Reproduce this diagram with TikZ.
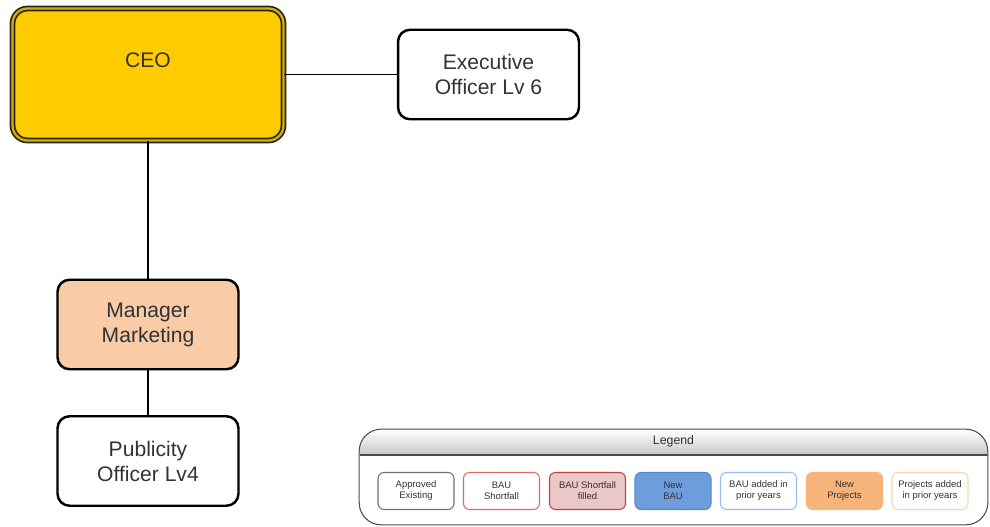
\documentclass[tikz,border=0pt]{standalone}
\usepackage{fontspec}
\setmainfont{Liberation Sans}
\definecolor{inkgray}{HTML}{333333}
\definecolor{ceogold}{HTML}{FFCC00}
\definecolor{ceorim}{HTML}{D9AD00}
\definecolor{peach}{HTML}{F9CBA7}
\definecolor{apprline}{HTML}{707070}
\definecolor{shortline}{HTML}{E06A6A}
\definecolor{filledfill}{HTML}{EAC8C8}
\definecolor{filledline}{HTML}{C84040}
\definecolor{newbaufill}{HTML}{6D9EDB}
\definecolor{newbauline}{HTML}{5588D0}
\definecolor{priorblue}{HTML}{9ABBEB}
\definecolor{newprojfill}{HTML}{F6B47B}
\definecolor{priorpeach}{HTML}{FAD3B5}
\begin{document}
\begin{tikzpicture}[x=0.02cm,y=-0.02cm,
  orgbox/.style={draw=black, line width=1.4pt, rounded corners=0.24cm,
    minimum width=3.62cm, minimum height=1.79cm, align=center,
    font=\fontsize{12}{14.2}\selectfont, text=inkgray},
  link/.style={draw=black, line width=0.8pt},
  keybox/.style={draw, line width=0.6pt, rounded corners=0.12cm,
    minimum width=1.52cm, minimum height=0.74cm, inner sep=0pt, align=center,
    font=\fontsize{5.4}{6.3}\selectfont, text=inkgray}]
\useasboundingbox (0,0) rectangle (990,527);

% organisation chart
\node[draw=black!85, line width=1pt, double=ceorim, double distance=1.3pt,
      fill=ceogold, rounded corners=0.3cm, minimum width=5.42cm, minimum height=2.64cm,
      label={[yshift=0.29cm, font=\fontsize{12}{14.2}\selectfont, text=inkgray]center:CEO}]
      (ceo) at (148,74.5) {};
\node[orgbox] (exec) at (488.5,74.5) {Executive\\Officer Lv 6};
\node[orgbox, fill=peach] (mgr) at (148,324.5) {Manager\\Marketing};
\node[orgbox] (pub) at (148,461) {Publicity\\Officer Lv4};

\draw[link] (ceo.east) -- (exec.west);
\draw[link] (ceo.south) -- (mgr.north);
\draw[link] (mgr.south) -- (pub.north);

% legend panel
\node[minimum width=12.56cm, minimum height=1.9cm, inner sep=0pt] (legend) at (673.5,477) {};
\begin{scope}
  \clip[rounded corners=0.44cm] (legend.south west) rectangle (legend.north east);
  \shade[top color=white, bottom color=black!22] (359.5,429.5) rectangle (987.5,455);
\end{scope}
\draw[draw=black!70, line width=0.6pt, rounded corners=0.44cm] (legend.south west) rectangle (legend.north east);
\draw[draw=black!70, line width=0.6pt] (359.5,455) -- (987.5,455);
\node[font=\fontsize{7}{8}\selectfont, text=inkgray] (legtitle) at (673.5,441.5) {Legend};

\node[keybox, draw=apprline] (k1) at (416,491) {Approved\\Existing};
\node[keybox, draw=shortline] (k2) at (501.5,491) {BAU\\Shortfall};
\node[keybox, draw=filledline, fill=filledfill] (k3) at (587.5,491) {BAU Shortfall\\filled};
\node[keybox, draw=newbauline, fill=newbaufill] (k4) at (673,491) {New\\BAU};
\node[keybox, draw=priorblue] (k5) at (758.5,491) {BAU added in\\prior years};
\node[keybox, draw=newprojfill, fill=newprojfill] (k6) at (844.5,491) {New\\Projects};
\node[keybox, draw=priorpeach] (k7) at (930,491) {Projects added\\in prior years};
\end{tikzpicture}
\end{document}
